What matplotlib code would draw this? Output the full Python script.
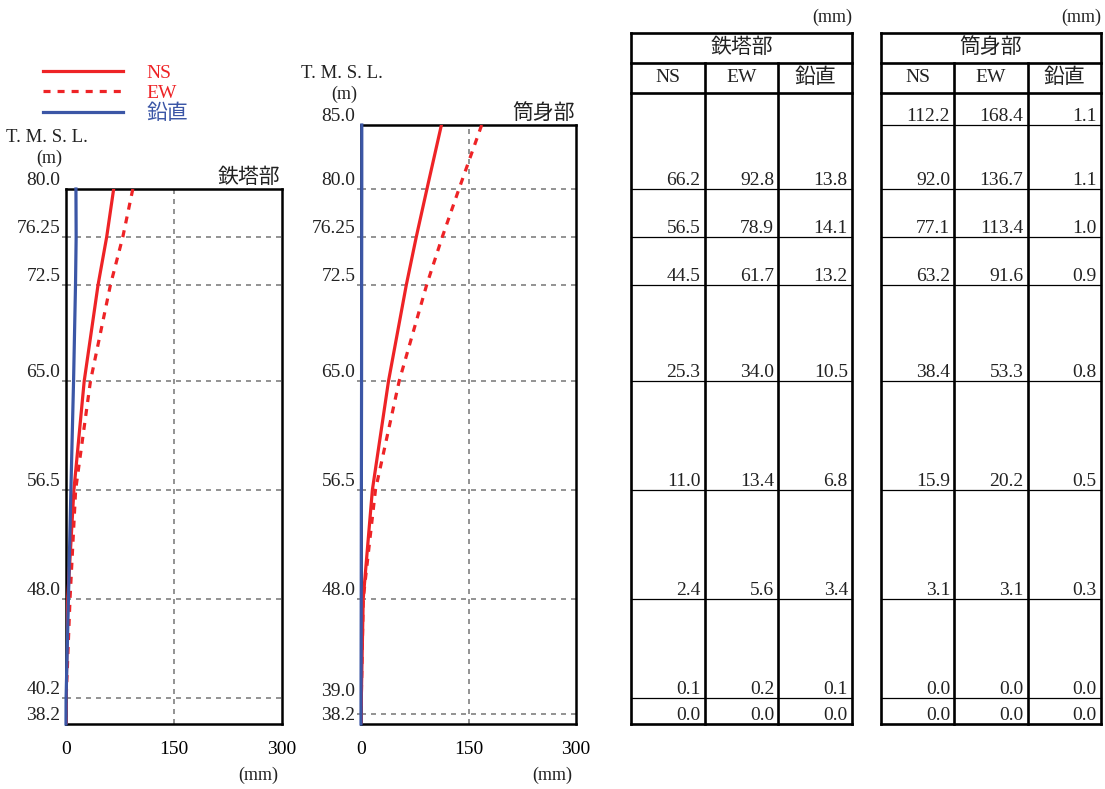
import matplotlib
matplotlib.use("Agg")
import matplotlib.pyplot as plt

plt.rcParams['font.family'] = ['Liberation Serif', 'Noto Sans CJK JP', 'DejaVu Sans']

# 鉄塔部
tower_elev = [80.0, 76.25, 72.5, 65.0, 56.5, 48.0, 40.2, 38.2]
tower_ns = [66.2, 56.5, 44.5, 25.3, 11.0, 2.4, 0.1, 0.0]
tower_ew = [92.8, 78.9, 61.7, 34.0, 13.4, 5.6, 0.2, 0.0]
tower_v = [13.8, 14.1, 13.2, 10.5, 6.8, 3.4, 0.1, 0.0]

# 筒身部
shell_elev = [85.0, 80.0, 76.25, 72.5, 65.0, 56.5, 48.0, 39.0, 38.2]
shell_ns = [112.2, 92.0, 77.1, 63.2, 38.4, 15.9, 3.1, 0.0, 0.0]
shell_ew = [168.4, 136.7, 113.4, 91.6, 53.3, 20.2, 3.1, 0.0, 0.0]
shell_v = [1.1, 1.1, 1.0, 0.9, 0.8, 0.5, 0.3, 0.0, 0.0]

# table row bottoms (shared by both tables)
table_rows = [85.0, 80.0, 76.25, 72.5, 65.0, 56.5, 48.0, 40.2, 38.2]
col_names = ["NS", "EW", "鉛直"]
x_ticks = [0, 150, 300]

RED = "#ee2326"
BLUE = "#3b56a6"
GRID = "#808080"
TXT = "#222222"
NUM = 14
JP = 15
W, H = 1105, 789

fig = plt.figure(figsize=(W / 100, H / 100), dpi=100)


def fig_rect(x0, y0, x1, y1):
    return [x0 / W, 1 - y1 / H, (x1 - x0) / W, (y1 - y0) / H]


def profile(rect, elev, ns, ew, v, title, nudge=None):
    ax = fig.add_axes(rect)
    ax.plot(ns, elev, color=RED, lw=2.3, label="NS", zorder=3)
    ax.plot(ew, elev, color=RED, lw=2.3, ls=(0, (2.2, 2.2)), label="EW", zorder=3)
    ax.plot(v, elev, color=BLUE, lw=2.3, label="鉛直", zorder=4, clip_on=False)
    ax.set_xlim(0, 300)
    ax.set_ylim(elev[-1], elev[0])
    for e in elev[1:-1]:
        ax.axhline(e, color=GRID, lw=1.2, ls=(0, (3, 3)), zorder=1)
    ax.axvline(150, color=GRID, lw=1.2, ls=(0, (3, 3)), zorder=1)
    for s in ax.spines.values():
        s.set_linewidth(1.8)
    ax.set_yticks(elev[1:-1])
    ax.set_yticklabels([])
    ax.tick_params(axis="y", length=3, color=GRID, width=1.2)
    ax.set_xticks(x_ticks)
    ax.set_xticklabels([str(t) for t in x_ticks], fontsize=NUM)
    ax.tick_params(axis="x", length=0, pad=12)
    for e in elev:
        lift = (nudge or {}).get(e, 0)
        ax.annotate(f"{e:g}" if e != int(e) else f"{e:.1f}", xy=(0, e),
                    xycoords=("axes fraction", "data"),
                    xytext=(-4, lift), textcoords="offset points",
                    ha="right", va="bottom", fontsize=NUM, color=TXT)
    ax.annotate("T. M. S. L.", xy=(0, 1), xycoords="axes fraction",
                xytext=(-14, 37), textcoords="offset points",
                ha="center", va="center", fontsize=NUM - 0.5, color=TXT)
    ax.annotate("(m)", xy=(0, 1), xycoords="axes fraction",
                xytext=(-12, 22), textcoords="offset points",
                ha="center", va="center", fontsize=NUM - 1, color=TXT)
    ax.annotate(title, xy=(1, 1), xycoords="axes fraction",
                xytext=(-1, 1), textcoords="offset points",
                ha="right", va="bottom", fontsize=JP, color=TXT)
    ax.annotate("(mm)", xy=(1, 0), xycoords="axes fraction",
                xytext=(-3, -37), textcoords="offset points",
                ha="right", va="center", fontsize=NUM - 1, color=TXT)
    return ax


ax1 = profile(fig_rect(66, 189, 282, 724), tower_elev, tower_ns, tower_ew, tower_v, "鉄塔部")
ax2 = profile(fig_rect(361, 125, 576, 724), shell_elev, shell_ns, shell_ew, shell_v, "筒身部",
              nudge={39.0: 10})

handles, labels = ax1.get_legend_handles_labels()
leg = fig.legend(handles, labels, loc="upper left", bbox_to_anchor=(43 / W, 1 - 64 / H),
                 frameon=False, handlelength=4.1, handletextpad=1.2, labelspacing=0.14,
                 fontsize=NUM, labelcolor="linecolor", borderaxespad=0, borderpad=0)
leg.get_texts()[2].set_fontsize(JP)


def table(rect, title, values, first_row):
    ax = fig.add_axes(rect)
    ax.set_xlim(0, 3)
    ax.set_ylim(shell_elev[-1], shell_elev[0])
    ax.axis("off")
    m_per_px = (shell_elev[0] - shell_elev[-1]) / 599
    top_data = table_rows[0] + 32 * m_per_px
    h_hdr = top_data + 30 * m_per_px
    h_top = h_hdr + 30 * m_per_px
    bottom = table_rows[-1]
    kw = dict(color="black", clip_on=False, solid_capstyle="projecting")
    # outer border and column lines
    for x in range(4):
        y0 = h_hdr if x in (1, 2) else h_top
        ax.plot([x, x], [bottom, y0], lw=1.9, **kw)
    for y in (h_top, h_hdr, top_data, bottom):
        ax.plot([0, 3], [y, y], lw=1.9, **kw)
    for i, name in enumerate(col_names):
        ax.text(i + 0.5, (h_hdr + top_data) / 2, name, ha="center", va="center",
                fontsize=NUM if name != "鉛直" else JP, color=TXT)
    ax.text(1.5, (h_top + h_hdr) / 2, title, ha="center", va="center",
            fontsize=JP, color=TXT)
    ax.annotate("(mm)", xy=(3, h_top), xycoords="data", xytext=(0, 11),
                textcoords="offset points", ha="right", va="center",
                fontsize=NUM - 1, color=TXT, annotation_clip=False)
    for r, row in enumerate(zip(*values)):
        y = table_rows[first_row + r]
        if y != bottom:
            ax.plot([0, 3], [y, y], lw=0.9, **kw)
        for c, val in enumerate(row):
            ax.annotate(f"{val:.1f}", xy=(c + 1, y), xycoords="data",
                        xytext=(-3, 0), textcoords="offset points",
                        ha="right", va="bottom", fontsize=NUM, color=TXT)
    return ax


table(fig_rect(631, 125, 852, 724), "鉄塔部", [tower_ns, tower_ew, tower_v], 1)
table(fig_rect(881, 125, 1101, 724), "筒身部", [shell_ns, shell_ew, shell_v], 0)

fig.savefig("out.png", dpi=100)
